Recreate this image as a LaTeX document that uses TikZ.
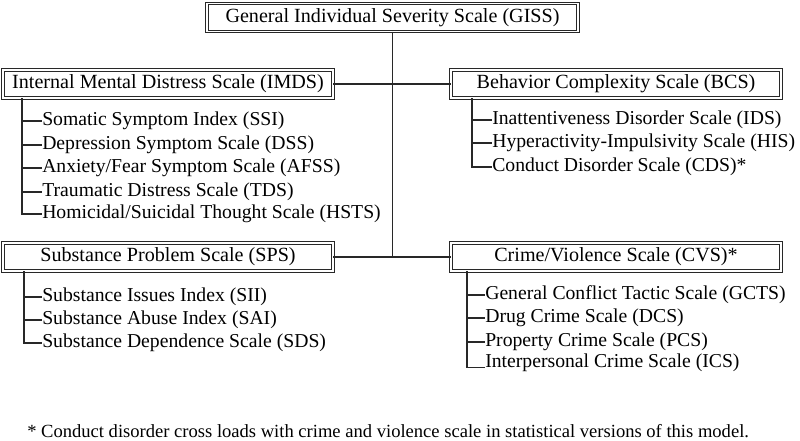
\documentclass[tikz,border=0pt]{standalone}
\usepackage{fontspec}
\setmainfont{Liberation Serif}
\usepackage{tikz}
\usetikzlibrary{positioning}
\definecolor{lineink}{RGB}{40, 40, 40}
\tikzset{
    scalebox/.style={draw=lineink, double, double distance=1.3pt, line width=0.6pt, minimum width=8.25cm, minimum height=0.7cm, inner sep=0pt},
    topbox/.style={scalebox, minimum width=9.28cm},
    itemnode/.style={anchor=west, inner sep=0pt, font=\fontsize{14}{16}\selectfont},
    treeline/.style={draw=lineink, line width=0.8pt}
}

\begin{document}
\begin{tikzpicture}[x=0.025cm, y=-0.025cm, font=\fontsize{14.3}{16}\selectfont]
    \useasboundingbox (0,0) rectangle (800,440);
    % main scale boxes
    \node[topbox] (giss) at (392.5,17.5) {General Individual Severity Scale (GISS)};
    \node[scalebox] (imds) at (168,84) {Internal Mental Distress Scale (IMDS)};
    \node[scalebox] (bcs) at (616,84) {Behavior Complexity Scale (BCS)};
    \node[scalebox] (sps) at (168,257) {Substance Problem Scale (SPS)};
    \node[scalebox] (cvs) at (616,257) {Crime/Violence Scale (CVS)*};
    \draw[treeline] (giss.south) -- (giss.south |- sps.east);
    \draw[treeline] (imds.east) -- (bcs.west);
    \draw[treeline] (sps.east) -- (cvs.west);
    % IMDS subscales
    \coordinate (imdsT) at (22,0);
    \node[itemnode] (ssi) at (42,121) {Somatic Symptom Index (SSI)};
    \node[itemnode] (dss) at (42,145) {Depression Symptom Scale (DSS)};
    \node[itemnode] (afss) at (42,168) {Anxiety/Fear Symptom Scale (AFSS)};
    \node[itemnode] (tds) at (42,192) {Traumatic Distress Scale (TDS)};
    \node[itemnode] (hsts) at (42,214) {Homicidal/Suicidal Thought Scale (HSTS)};
    \draw[treeline] (imds.south -| imdsT) |- (hsts.west);
    \foreach \n in {ssi, dss, afss, tds}
        \draw[treeline] (\n.west -| imdsT) -- (\n.west);
    % BCS subscales
    \coordinate (bcsT) at (472,0);
    \node[itemnode] (ids) at (492,120) {Inattentiveness Disorder Scale (IDS)};
    \node[itemnode] (his) at (492,143) {Hyperactivity-Impulsivity Scale (HIS)};
    \node[itemnode] (cds) at (492,167) {Conduct Disorder Scale (CDS)*};
    \draw[treeline] (bcs.south -| bcsT) |- (cds.west);
    \foreach \n in {ids, his}
        \draw[treeline] (\n.west -| bcsT) -- (\n.west);
    % SPS subscales
    \coordinate (spsT) at (24,0);
    \node[itemnode] (sii) at (42,297) {Substance Issues Index (SII)};
    \node[itemnode] (sai) at (42,320) {Substance Abuse Index (SAI)};
    \node[itemnode] (sds) at (42,343) {Substance Dependence Scale (SDS)};
    \draw[treeline] (sps.south -| spsT) |- (sds.west);
    \foreach \n in {sii, sai}
        \draw[treeline] (\n.west -| spsT) -- (\n.west);
    % CVS subscales
    \coordinate (cvsT) at (467,0);
    \node[itemnode] (gcts) at (485,295) {General Conflict Tactic Scale (GCTS)};
    \node[itemnode] (dcs) at (485,318) {Drug Crime Scale (DCS)};
    \node[itemnode] (pcs) at (485,342) {Property Crime Scale (PCS)};
    \node[itemnode] (ics) at (485,363) {Interpersonal Crime Scale (ICS)};
    \draw[treeline] (cvs.south -| cvsT) |- (ics.base west);
    \foreach \n in {gcts, dcs, pcs}
        \draw[treeline] (\n.west -| cvsT) -- (\n.west);
    % footnote
    \node[itemnode, font=\fontsize{13.2}{15}\selectfont] (note) at (27,431) {* Conduct disorder cross loads with crime and violence scale in statistical versions of this model.};
\end{tikzpicture}
\end{document}
